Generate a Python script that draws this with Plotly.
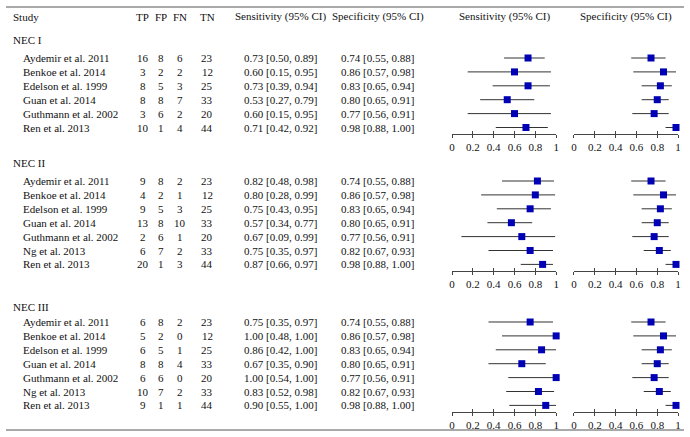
import plotly.graph_objects as go

# ---------------- data ----------------
sections = ["NEC I", "NEC II", "NEC III"]

studies_1 = ["Aydemir et al. 2011", "Benkoe et al. 2014", "Edelson et al. 1999",
             "Guan et al. 2014", "Guthmann et al. 2002", "Ren et al. 2013"]
studies_2 = ["Aydemir et al. 2011", "Benkoe et al. 2014", "Edelson et al. 1999",
             "Guan et al. 2014", "Guthmann et al. 2002", "Ng et al. 2013", "Ren et al. 2013"]
studies_3 = studies_2

tp_1 = [16, 3, 8, 8, 3, 10]
fp_1 = [8, 2, 5, 8, 6, 1]
fn_1 = [6, 2, 3, 7, 2, 4]
tn_1 = [23, 12, 25, 33, 20, 44]
sens_1 = [0.73, 0.60, 0.73, 0.53, 0.60, 0.71]
sens_lo_1 = [0.50, 0.15, 0.39, 0.27, 0.15, 0.42]
sens_hi_1 = [0.89, 0.95, 0.94, 0.79, 0.95, 0.92]
spec_1 = [0.74, 0.86, 0.83, 0.80, 0.77, 0.98]
spec_lo_1 = [0.55, 0.57, 0.65, 0.65, 0.56, 0.88]
spec_hi_1 = [0.88, 0.98, 0.94, 0.91, 0.91, 1.00]

tp_2 = [9, 4, 9, 13, 2, 6, 20]
fp_2 = [8, 2, 5, 8, 6, 7, 1]
fn_2 = [2, 1, 3, 10, 1, 2, 3]
tn_2 = [23, 12, 25, 33, 20, 33, 44]
sens_2 = [0.82, 0.80, 0.75, 0.57, 0.67, 0.75, 0.87]
sens_lo_2 = [0.48, 0.28, 0.43, 0.34, 0.09, 0.35, 0.66]
sens_hi_2 = [0.98, 0.99, 0.95, 0.77, 0.99, 0.97, 0.97]
spec_2 = [0.74, 0.86, 0.83, 0.80, 0.77, 0.82, 0.98]
spec_lo_2 = [0.55, 0.57, 0.65, 0.65, 0.56, 0.67, 0.88]
spec_hi_2 = [0.88, 0.98, 0.94, 0.91, 0.91, 0.93, 1.00]

tp_3 = [6, 5, 6, 8, 6, 10, 9]
fp_3 = [8, 2, 5, 8, 6, 7, 1]
fn_3 = [2, 0, 1, 4, 0, 2, 1]
tn_3 = [23, 12, 25, 33, 20, 33, 44]
sens_3 = [0.75, 1.00, 0.86, 0.67, 1.00, 0.83, 0.90]
sens_lo_3 = [0.35, 0.48, 0.42, 0.35, 0.54, 0.52, 0.55]
sens_hi_3 = [0.97, 1.00, 1.00, 0.90, 1.00, 0.98, 1.00]
spec_3 = [0.74, 0.86, 0.83, 0.80, 0.77, 0.82, 0.98]
spec_lo_3 = [0.55, 0.57, 0.65, 0.65, 0.56, 0.67, 0.88]
spec_hi_3 = [0.88, 0.98, 0.94, 0.91, 0.91, 0.93, 1.00]

tick_vals = [0, 0.2, 0.4, 0.6, 0.8, 1]
tick_text = ["0", "0.2", "0.4", "0.6", "0.8", "1"]

blocks = [
    (studies_1, tp_1, fp_1, fn_1, tn_1, sens_1, sens_lo_1, sens_hi_1, spec_1, spec_lo_1, spec_hi_1),
    (studies_2, tp_2, fp_2, fn_2, tn_2, sens_2, sens_lo_2, sens_hi_2, spec_2, spec_lo_2, spec_hi_2),
    (studies_3, tp_3, fp_3, fn_3, tn_3, sens_3, sens_lo_3, sens_hi_3, spec_3, spec_lo_3, spec_hi_3),
]

# ---------------- layout (pixels) ----------------
W, H = 690, 437
FONT = "Liberation Serif, Times New Roman, serif"
FS = 11
ROW_H = 13.9
label_y = [40, 163, 307]       # section label rows
first_row_y = [58, 181, 322]   # first study row of each section
TOP_PAD, BOT_PAD = 0.7, 0.45   # in row units, around the forest rows

X_STUDY, X_NAME = 8, 18
X_TP, X_FP, X_FN, X_TN = 141, 159, 179, 206
X_SENS_TXT, X_SPEC_TXT = 280, 378
SENS_AX = (453, 558)
SPEC_AX = (576, 681)


def px(x):
    return x / W


def py(y):
    return 1 - y / H


fig = go.Figure()
annots = []


def txt(x, y, s, anchor="center"):
    annots.append(dict(x=px(x), y=py(y), xref="paper", yref="paper", text=s,
                       showarrow=False, xanchor=anchor, yanchor="middle",
                       font=dict(family=FONT, size=FS, color="#111")))


# header
HEAD_Y = 17
txt(X_STUDY, HEAD_Y, "Study", "left")
for x, s in [(X_TP, "TP"), (X_FP, "FP"), (X_FN, "FN"), (X_TN, "TN")]:
    txt(x, HEAD_Y, s)
txt(X_SENS_TXT, HEAD_Y, "Sensitivity (95% CI)")
txt(X_SPEC_TXT, HEAD_Y, "Specificity (95% CI)")
txt(sum(SENS_AX) / 2, HEAD_Y, "Sensitivity (95% CI)")
txt(sum(SPEC_AX) / 2, HEAD_Y, "Specificity (95% CI)")


def ci(v, lo, hi):
    return f"{v:.2f} [{lo:.2f}, {hi:.2f}]"


layout_axes = {}
k = 0
for s, (names, tp, fp, fn, tn, se, se_lo, se_hi, sp, sp_lo, sp_hi) in enumerate(blocks):
    n = len(names)
    txt(X_STUDY, label_y[s], sections[s], "left")
    for i in range(n):
        y = first_row_y[s] + i * ROW_H
        txt(X_NAME, y, names[i], "left")
        txt(X_TP, y, str(tp[i]))
        txt(X_FP, y, str(fp[i]))
        txt(X_FN, y, str(fn[i]))
        txt(X_TN, y, str(tn[i]))
        txt(X_SENS_TXT, y, ci(se[i], se_lo[i], se_hi[i]))
        txt(X_SPEC_TXT, y, ci(sp[i], sp_lo[i], sp_hi[i]))

    top_px = first_row_y[s] - TOP_PAD * ROW_H
    bot_px = first_row_y[s] + (n - 1 + BOT_PAD) * ROW_H
    ydom = [py(bot_px), py(top_px)]

    for (vals, lo, hi, ax_px) in [(se, se_lo, se_hi, SENS_AX), (sp, sp_lo, sp_hi, SPEC_AX)]:
        k += 1
        xn, yn = f"x{k}", f"y{k}"
        fig.add_trace(go.Scatter(
            x=vals, y=list(range(n)), mode="markers", xaxis=xn, yaxis=yn,
            marker=dict(symbol="square", size=7, color="#0000b4", line=dict(width=0)),
            error_x=dict(type="data", symmetric=False,
                         array=[h - v for v, h in zip(vals, hi)],
                         arrayminus=[v - l for v, l in zip(vals, lo)],
                         color="#333333", thickness=1, width=0),
            cliponaxis=False, showlegend=False, hoverinfo="skip"))
        xdom = [px(ax_px[0]), px(ax_px[1])]
        layout_axes[f"xaxis{k}"] = dict(
            domain=xdom, range=[0, 1], anchor=yn, showgrid=False, zeroline=False,
            showline=True, linecolor="#444", linewidth=1,
            tickvals=tick_vals, ticktext=tick_text, ticks="outside", ticklen=3,
            tickcolor="#444", tickwidth=1,
            tickfont=dict(family=FONT, size=FS, color="#111"))
        layout_axes[f"yaxis{k}"] = dict(
            domain=ydom, range=[n - 1 + BOT_PAD, -TOP_PAD], anchor=xn,
            visible=False, showgrid=False, zeroline=False)
        # overlay axis for the upward half of the crossing ticks
        layout_axes[f"xaxis{k + 6}"] = dict(
            domain=xdom, range=[0, 1], anchor=yn, overlaying=xn, side="bottom",
            showgrid=False, zeroline=False, showline=False, showticklabels=False,
            tickvals=tick_vals, ticks="inside", ticklen=3, tickcolor="#444", tickwidth=1)

# overlay axes need a trace to be drawn
for k2 in range(1, 7):
    fig.add_trace(go.Scatter(x=[None], y=[None], xaxis=f"x{k2 + 6}", yaxis=f"y{k2}",
                             showlegend=False, hoverinfo="skip"))

shapes = [
    dict(type="line", xref="paper", yref="paper", x0=px(3), x1=px(687), y0=py(7), y1=py(7),
         line=dict(color="#555", width=1)),
    dict(type="line", xref="paper", yref="paper", x0=px(3), x1=px(687), y0=py(430), y1=py(430),
         line=dict(color="#555", width=1)),
]

fig.update_layout(
    width=W, height=H, margin=dict(l=0, r=0, t=0, b=0),
    paper_bgcolor="white", plot_bgcolor="white",
    annotations=annots, shapes=shapes, showlegend=False,
    **layout_axes)

# the page's default body margin would push the figure 8px right/down
fig.write_html("out.html", config={"displayModeBar": False},
               post_script="document.body.style.margin='0px';")
